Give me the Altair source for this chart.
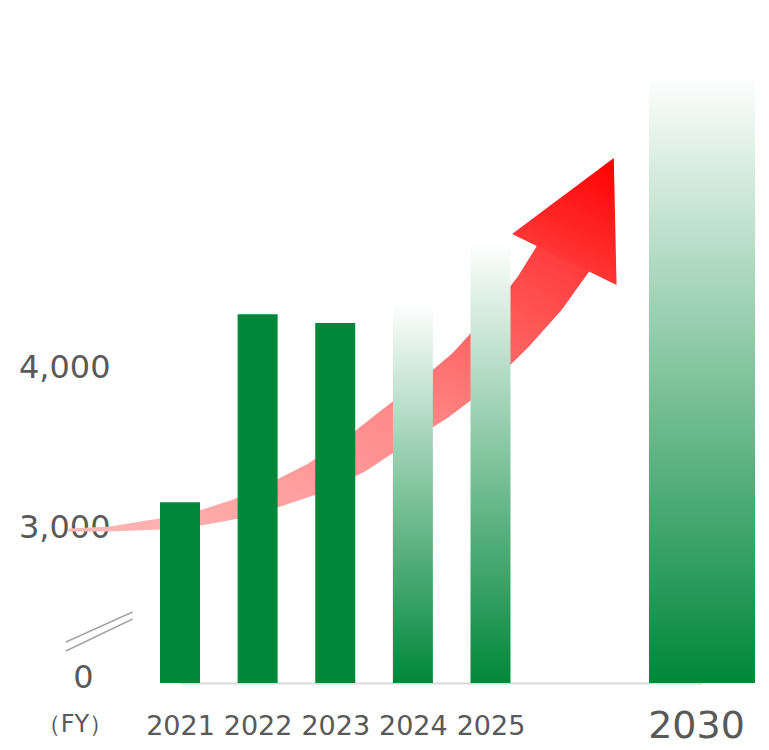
import altair as alt
import pandas as pd

# ---- data ----
years = [2021, 2022, 2023, 2024, 2025, 2030]
values = [3155, 4330, 4275, 4400, 4780, 5825]
kinds = ["actual", "actual", "actual", "plan", "plan", "plan"]

y_ticks = [0, 3000, 4000]
fy_label = "（FY）"

# decorative growth arrow (centre line, in data units) and its width
arrow_x = [2019.58, 2020.10, 2020.74, 2021.26, 2021.73, 2022.25, 2022.74,
           2023.26, 2023.74, 2024.26, 2024.74, 2025.48, 2026.17, 2026.80]
arrow_y = [2942, 2962, 3019, 3056, 3113, 3206, 3306,
           3450, 3619, 3794, 3981, 4244, 4463, 4712]
arrow_w = [3, 5, 11, 15, 20, 26, 32, 38, 42, 46, 49, 52, 55, 58]
head_x = [2027.33]
head_y = [4989]

# axis-break marks
break_x = [2019.53, 2019.53]
break_x2 = [2020.39, 2020.39]
break_y = [788, 615]
break_y2 = [1365, 1231]

GREEN = "#00873A"
GREY = "#595959"
FONT = "DejaVu Sans"

bars = pd.DataFrame({"year": years, "value": values, "kind": kinds})
arrow = pd.DataFrame({"x": arrow_x, "y": arrow_y, "w": arrow_w})
head = pd.DataFrame({"x": head_x, "y": head_y})
breaks = pd.DataFrame({"x": break_x, "x2": break_x2, "y": break_y, "y2": break_y2})

xscale = alt.Scale(domain=[2021, 2025, 2030], range=[39, 349.5, 561],
                   nice=False, zero=False, padding=0)
yscale = alt.Scale(domain=[0, 3000, 4000], range=[671, 515, 355],
                   nice=False, zero=False, padding=0)

xaxis = alt.Axis(
    values=years, format="d", title=None,
    labelFontSize={"condition": {"test": "datum.value == 2030", "value": 38}, "value": 27},
    labelOffset={"condition": {"test": "datum.value == 2030", "value": -6}, "value": 0},
    labelColor=GREY, labelFont=FONT, labelPadding=43, labelBaseline="middle",
    ticks=False, tickSize=0, grid=False, domainColor="#D9D9D9", domainWidth=2,
    labelFlush=False, labelOverlap=False, labelBound=False,
)
yaxis = alt.Axis(
    values=y_ticks, title=None,
    labelExpr="datum.value == 0 ? '0' : format(datum.value, ',')",
    labelFontSize=32, labelColor=GREY, labelFont=FONT,
    labelPadding={"condition": {"test": "datum.value == 0", "value": 48}, "value": 31},
    labelOffset={"condition": {"test": "datum.value == 0", "value": -6}, "value": 0},
    ticks=False, tickSize=0, domain=False, grid=False, labelOverlap=False,
    labelFlush=False, labelBound=False,
)

X = lambda f: alt.X(f, scale=xscale, axis=xaxis)
Y = lambda f: alt.Y(f, scale=yscale, axis=yaxis)

trail = alt.Chart(arrow).mark_trail(
    color=alt.Gradient(
        gradient="linear",
        stops=[alt.GradientStop(color="#FFB8B8", offset=0),
               alt.GradientStop(color="#FF8A8A", offset=0.5),
               alt.GradientStop(color="#FF2C2C", offset=1)],
        x1=0, y1=1, x2=1, y2=0),
    opacity=1,
).encode(
    x=X("x:Q"),
    y=Y("y:Q"),
    size=alt.Size("w:Q", scale=None, legend=None),
    order="x:Q",
)

arrow_head = alt.Chart(head).mark_point(
    shape="M0,-1L1.03,1L-1.03,1Z",
    filled=True, opacity=1, strokeWidth=0, size=12723, angle=26,
    color=alt.Gradient(
        gradient="linear",
        stops=[alt.GradientStop(color="#FF0000", offset=0),
               alt.GradientStop(color="#FF3535", offset=1)],
        x1=0.5, y1=0, x2=0.5, y2=1),
).encode(
    x=X("x:Q"),
    y=Y("y:Q"),
)

break_marks = alt.Chart(breaks).mark_rule(color="#A6A6A6", strokeWidth=1.5).encode(
    x=X("x:Q"),
    x2="x2:Q",
    y=Y("y:Q"),
    y2="y2:Q",
)

bar_size = alt.condition("datum.year == 2030", alt.value(106), alt.value(40))

solid = alt.Chart(bars).transform_filter("datum.kind == 'actual'").mark_bar(
    color=GREEN
).encode(
    x=X("year:Q"),
    y=Y("value:Q"),
    size=bar_size,
)

plan = alt.Chart(bars).transform_filter("datum.kind == 'plan'").mark_bar(
    color=alt.Gradient(
        gradient="linear",
        stops=[alt.GradientStop(color="#FFFFFF", offset=0),
               alt.GradientStop(color=GREEN, offset=1)],
        x1=0, y1=0, x2=0, y2=1),
).encode(
    x=X("year:Q"),
    y=Y("value:Q"),
    size=bar_size,
)

fy = alt.Chart(pd.DataFrame({"t": [fy_label]})).mark_text(
    font=FONT, fontSize=24, color=GREY, align="center", baseline="middle"
).encode(
    text="t:N",
    x=alt.value(-66),
    y=alt.value(713),
)

chart = alt.layer(trail, arrow_head, break_marks, solid, plan, fy).properties(
    width=620,
    height=671,
    autosize=alt.AutoSizeParams(type="none"),
    padding={"left": 133, "top": 4, "right": 0, "bottom": 62},
).configure_view(stroke=None)

chart.save("out.html", embed_options={"renderer": "svg", "actions": False})
